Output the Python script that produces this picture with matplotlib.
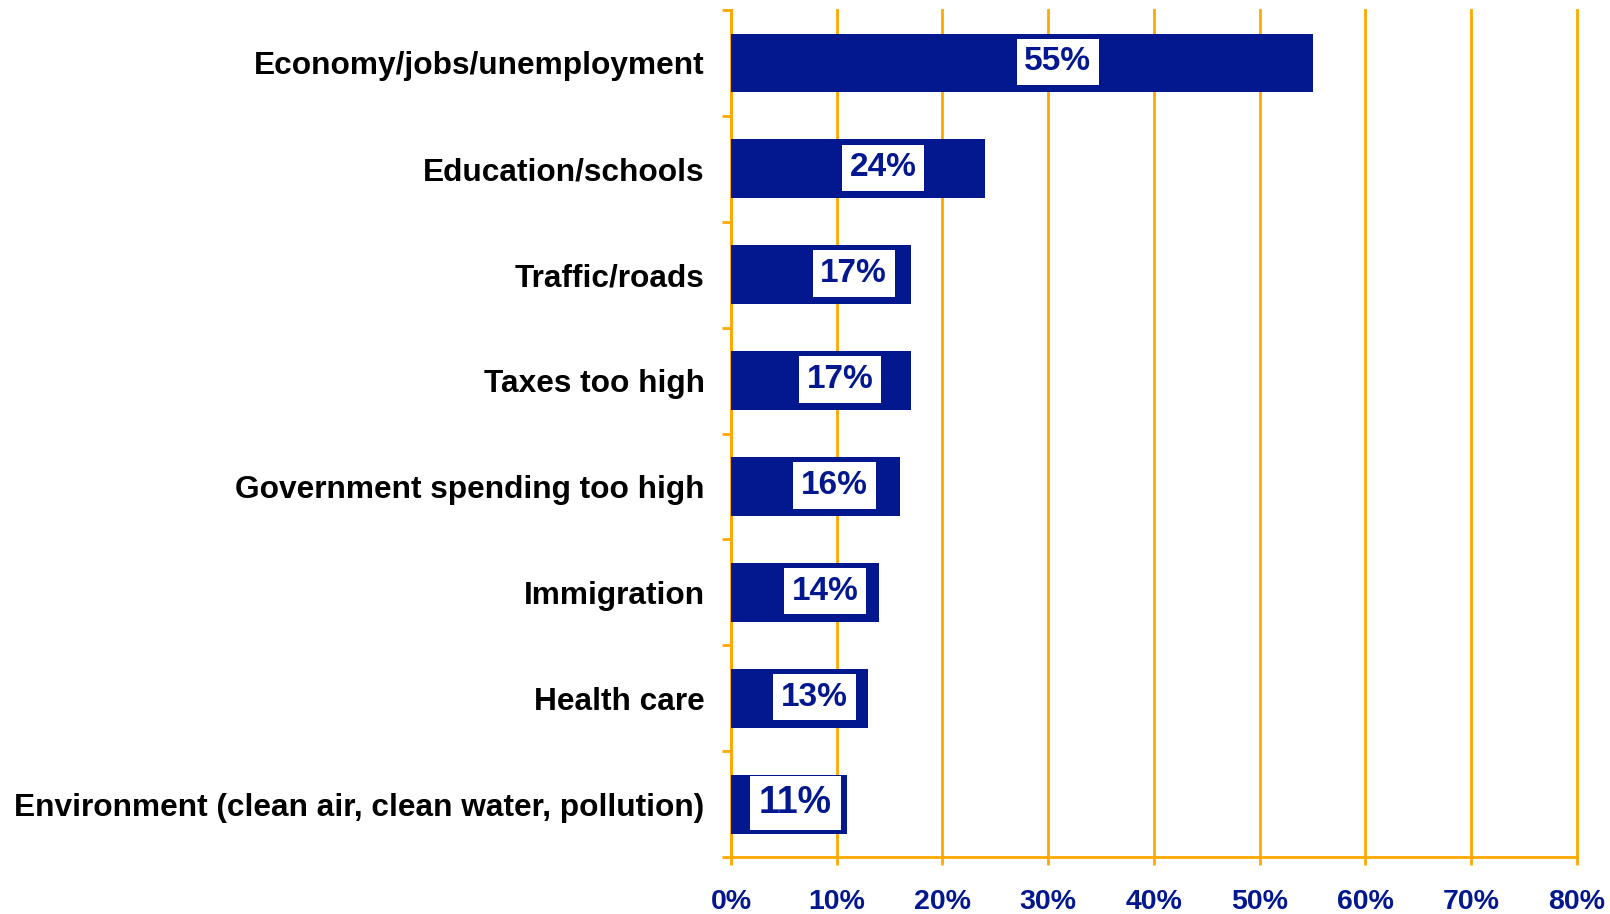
import matplotlib
matplotlib.use('Agg')
import matplotlib.pyplot as plt
from matplotlib.ticker import FixedLocator, PercentFormatter

categories = [
    'Economy/jobs/unemployment',
    'Education/schools',
    'Traffic/roads',
    'Taxes too high',
    'Government spending too high',
    'Immigration',
    'Health care',
    'Environment (clean air, clean water, pollution)',
]
values = [55, 24, 17, 17, 16, 14, 13, 11]
value_labels = ['55%', '24%', '17%', '17%', '16%', '14%', '13%', '11%']
# where each value box sits along the bar (data units)
label_x = [30.9, 14.4, 11.6, 10.3, 9.8, 8.9, 7.9, 6.1]
x_ticks = [0, 10, 20, 30, 40, 50, 60, 70, 80]

NAVY = '#03178F'
ORANGE = '#FFA800'

plt.rcParams['font.family'] = ['Liberation Sans', 'DejaVu Sans']

fig = plt.figure(figsize=(16.1, 9.14), dpi=100)
ax = fig.add_axes([0.454, 0.0624, 0.5255, 0.9266])

ypos = list(range(len(categories)))
ax.barh(ypos, values, height=0.557, color=NAVY, zorder=3)

for y, x, txt in zip(ypos, label_x, value_labels):
    size = 27 if txt == value_labels[-1] else 24
    ax.text(x, y - 0.01, txt, ha='center', va='center', color=NAVY,
            fontsize=size, fontweight='bold', zorder=4,
            bbox=dict(boxstyle='square,pad=0.23', fc='white', ec='none'))

ax.set_xlim(0, 80)
ax.set_ylim(len(categories) - 0.5, -0.5)
ax.xaxis.set_major_locator(FixedLocator(x_ticks))
ax.xaxis.set_major_formatter(PercentFormatter(decimals=0))
ax.grid(axis='x', color=ORANGE, linewidth=2, zorder=1)
ax.set_axisbelow(True)
for gl in ax.get_xgridlines():
    gl.set_clip_on(False)

ax.set_yticks(ypos)
ax.set_yticklabels(categories)
ax.yaxis.set_minor_locator(FixedLocator([i - 0.5 for i in range(len(categories) + 1)]))
ax.tick_params(axis='y', which='major', length=0, pad=19)
ax.tick_params(axis='y', which='minor', length=6.5, width=2, color=ORANGE)
ax.tick_params(axis='x', length=6, width=2, color=ORANGE, pad=17,
               labelcolor=NAVY, labelsize=20.5)
for lab in ax.get_xticklabels():
    lab.set_fontweight('bold')
for lab in ax.get_yticklabels():
    lab.set_fontweight('bold')
    lab.set_fontsize(22.8)

for side in ('top', 'right'):
    ax.spines[side].set_visible(False)
for side in ('left', 'bottom'):
    ax.spines[side].set_color(ORANGE)
    ax.spines[side].set_linewidth(2)

fig.savefig('out.png', dpi=100)
